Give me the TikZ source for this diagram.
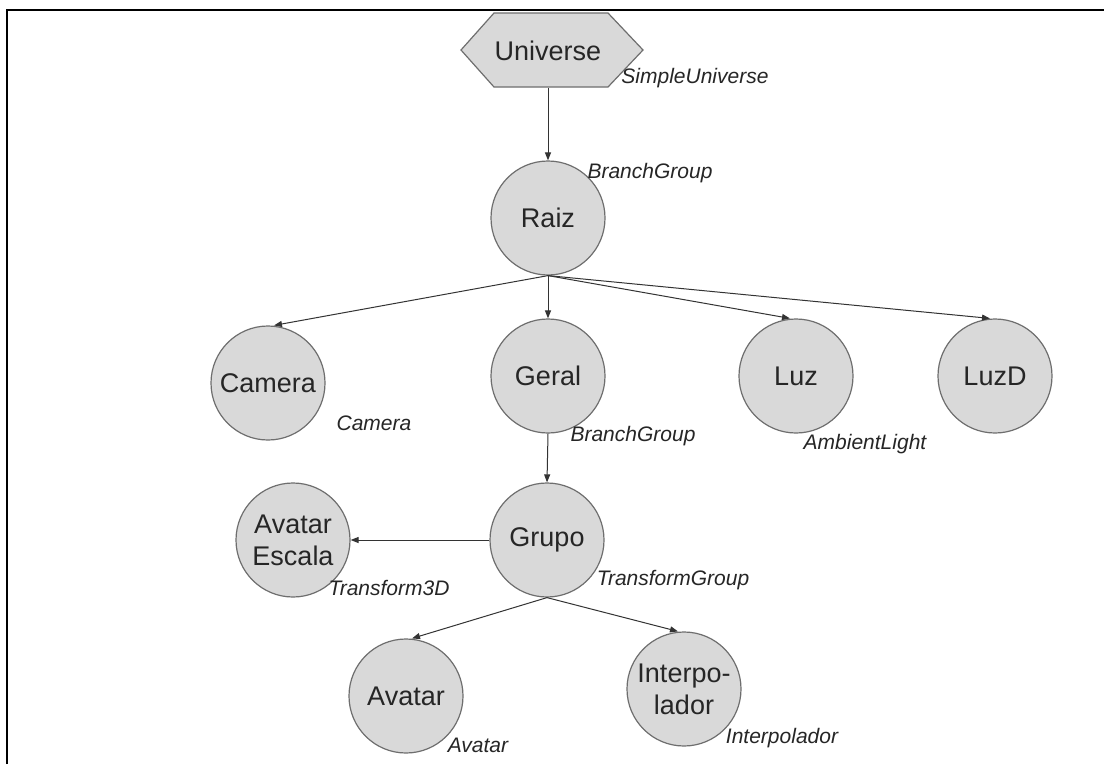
\documentclass[tikz,border=0pt]{standalone}
\usepackage{fontspec}
\setmainfont{Liberation Sans}
\usetikzlibrary{arrows.meta,calc}
\definecolor{nodefill}{HTML}{D9D9D9}
\definecolor{nodeline}{HTML}{6E6E6E}
\definecolor{edgeline}{HTML}{333333}
\definecolor{inktext}{HTML}{262626}

\begin{document}
\begin{tikzpicture}[x=1pt,y=-1pt,
  obj/.style={circle,draw=nodeline,fill=nodefill,line width=1.2pt,minimum size=114pt,
    inner sep=0pt,align=center,font=\fontsize{27}{32}\selectfont,text=inktext},
  hexbox/.style={draw=nodeline,fill=nodefill,line width=1.2pt,line join=miter},
  cls/.style={anchor=base,inner sep=0pt,font=\fontsize{21}{24}\selectfont\itshape,text=inktext},
  link/.style={draw=edgeline,line width=1pt,-{Triangle[length=8pt,width=6pt]}},
]
\useasboundingbox (0,0) rectangle (1104,764);
\fill[white] (0,0) rectangle (1104,764);

% frame
\draw[line width=2.4pt,line join=miter] (7,764) -- (7,10) -- (1104,10);

% universe (hexagon)
\coordinate (hexc) at (552,50);
\draw[hexbox] ($(hexc)+(-91,0)$) -- ($(hexc)+(-58,-37)$) -- ($(hexc)+(56,-37)$)
  -- ($(hexc)+(91,0)$) -- ($(hexc)+(56,37)$) -- ($(hexc)+(-58,37)$) -- cycle;
\node[inner sep=0pt,minimum width=150pt,minimum height=74pt,
  font=\fontsize{27}{32}\selectfont,text=inktext] (universe) at (548,51) {Universe};

% scene graph nodes
\node[obj] (raiz)   at (548,218) {Raiz};
\node[obj] (camera) at (268,383) {Camera};
\node[obj] (geral)  at (548,376) {Geral};
\node[obj] (luz)    at (796,376) {Luz};
\node[obj] (luzd)   at (995,376) {LuzD};
\node[obj] (grupo)  at (547,540) {Grupo};
\node[obj] (escala) at (293,540) {Avatar\\Escala};
\node[obj] (avatar) at (406,696) {Avatar};
\node[obj] (interp) at (684,689) {Interpo-\\lador};

% class names
\node[cls] (tUniverse) at (695,83)  {SimpleUniverse};
\node[cls] (tRaiz)     at (650,178) {BranchGroup};
\node[cls] (tCamera)   at (374,430) {Camera};
\node[cls] (tGeral)    at (633,441) {BranchGroup};
\node[cls] (tLuz)      at (865,449) {AmbientLight};
\node[cls] (tEscala)   at (389,595) {Transform3D};
\node[cls] (tGrupo)    at (673,585) {TransformGroup};
\node[cls] (tAvatar)   at (478,752) {Avatar};
\node[cls] (tInterp)   at (782,743) {Interpolador};

% connectors
\draw[link] (universe.south -| raiz.north) -- (raiz.north);
\draw[link] (raiz.south) -- ([xshift=6pt]camera.north);
\draw[link] (raiz.south) -- (geral.north);
\draw[link] (raiz.south) -- ([xshift=-6pt]luz.north);
\draw[link] (raiz.south) -- ([xshift=-5pt]luzd.north);
\draw[link] (geral.south) -- (grupo.north);
\draw[link] (grupo.west) -- (escala.east);
\draw[link] (grupo.south) -- ([xshift=6pt]avatar.north);
\draw[link] (grupo.south) -- ([xshift=-6pt]interp.north);
\end{tikzpicture}
\end{document}
